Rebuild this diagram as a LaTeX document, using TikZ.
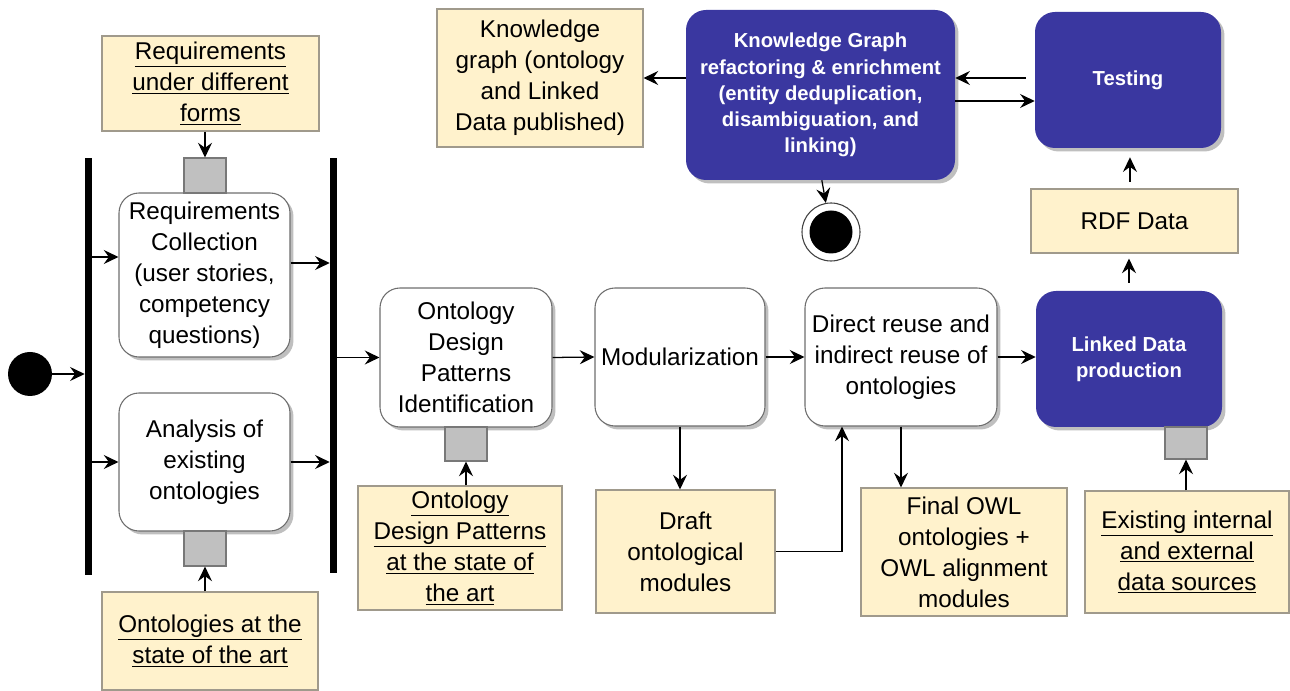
\documentclass[tikz,border=0pt]{standalone}
\usepackage{fontspec}
\setmainfont{Liberation Sans}
\usetikzlibrary{arrows.meta,shadows}

\definecolor{kgblue}{RGB}{58,55,160}
\definecolor{notefill}{RGB}{255,242,204}
\definecolor{noteline}{RGB}{160,154,140}
\definecolor{pinfill}{RGB}{192,192,192}
\definecolor{pinline}{RGB}{120,120,120}
\definecolor{actline}{RGB}{110,110,110}

\newcommand{\regfont}{\fontsize{18.2pt}{23.3pt}\selectfont}
\newcommand{\boldfont}{\fontsize{15.2pt}{19.6pt}\selectfont\bfseries}

\begin{document}
\begin{tikzpicture}[x=0.75pt,y=-0.75pt,
  sz/.style 2 args={minimum width=#1*0.75pt, minimum height=#2*0.75pt},
  softshadow/.style={drop shadow={shadow xshift=2.6pt, shadow yshift=-2.6pt, opacity=0.25, fill=black}},
  act/.style={draw=actline, fill=white, rounded corners=15pt, line width=0.8pt,
    inner sep=0pt, align=center, font=\regfont, softshadow},
  kgact/.style={fill=kgblue, rounded corners=15pt, inner sep=0pt, align=center,
    text=white, font=\boldfont, softshadow},
  note/.style={draw=noteline, fill=notefill, line width=0.8pt, inner sep=0pt,
    align=center, font=\regfont},
  pin/.style={draw=pinline, fill=pinfill, line width=0.8pt, inner sep=0pt},
  syncbar/.style={fill=black, inner sep=0pt, minimum width=7*0.75pt},
  arr/.style={draw=black, line width=0.95pt, -{Stealth[length=11pt,width=10.5pt,inset=3.8pt]}}
]
\useasboundingbox (0,0) rectangle (1290,691);

% initial and final states
\node[circle, fill=black, inner sep=0pt, minimum size=44*0.75pt] (start) at (30,374) {};
\node[circle, draw=black!75, line width=0.8pt, fill=white, inner sep=0pt, minimum size=58*0.75pt] (endo) at (831,232) {};
\node[circle, fill=black, inner sep=0pt, minimum size=43*0.75pt] (endi) at (831,232) {};

% fork / join bars
\node[syncbar, minimum height=417*0.75pt] (bar1) at (88.5,366.5) {};
\node[syncbar, minimum height=415*0.75pt] (bar2) at (333.5,365.5) {};

% requirement phase
\node[note, sz={217}{95}] (reqforms) at (210.5,83.5)
  {\underline{Requirements}\\\underline{under different}\\\underline{forms}};
\node[act, sz={171}{164}] (reqcoll) at (204.5,275)
  {Requirements\\Collection\\(user stories,\\competency\\questions)};
\node[pin, sz={42}{35}] (pin1) at (205,175.5) {};
\node[act, sz={171}{138}] (analysis) at (204.5,462)
  {Analysis of\\existing\\ontologies};
\node[pin, sz={42}{35}] (pin2) at (205,548.5) {};
\node[note, sz={216}{98}] (ontart) at (210,641)
  {\underline{Ontologies at the}\\\underline{state of the art}};

% ontology engineering
\node[act, sz={172}{139}] (odp) at (466,357.5)
  {Ontology\\Design\\Patterns\\Identification};
\node[pin, sz={42}{34}] (pin3) at (466,444) {};
\node[note, sz={204}{124}] (odpart) at (460,548)
  {\underline{Ontology}\\\underline{Design Patterns}\\\underline{at the state of}\\\underline{the art}};
\node[act, sz={170}{138}] (mod) at (680,357) {Modularization};
\node[note, sz={179}{123}] (draft) at (685.5,551.5)
  {Draft\\ontological\\modules};
\node[act, sz={192}{138}] (direct) at (901,357)
  {Direct reuse and\\indirect reuse of\\ontologies};
\node[note, sz={206}{128}] (final) at (964,552)
  {Final OWL\\ontologies +\\OWL alignment\\modules};

% knowledge graph construction
\node[kgact, sz={186}{136}] (ld) at (1129,359) {Linked Data\\production};
\node[pin, sz={42}{32}] (pin4) at (1186,443) {};
\node[note, sz={204}{122}] (exist) at (1187,552)
  {\underline{Existing internal}\\\underline{and external}\\\underline{data sources}};
\node[note, sz={207}{64}] (rdf) at (1134.5,221) {RDF Data};
\node[kgact, sz={186}{136}] (testing) at (1128,80) {Testing};
\node[kgact, sz={269}{170}] (kg) at (820.5,95)
  {Knowledge Graph\\refactoring \& enrichment\\(entity deduplication,\\disambiguation, and\\linking)};
\node[note, sz={206}{138}] (kgpub) at (540,78)
  {Knowledge\\graph (ontology\\and Linked\\Data published)};

% helper points for offset connectors
\coordinate (rc1) at ([yshift=13.5pt]reqcoll.west);
\coordinate (rc2) at ([yshift=9pt]reqcoll.east);
\coordinate (dr1) at ([xshift=-44.25pt]direct.south);
\coordinate (ts1) at ([yshift=1.5pt]testing.west);
\coordinate (ts2) at ([yshift=-15.75pt]testing.west);

% connectors
\draw[arr] (start) -- (start -| bar1.west);
\draw[arr] (rc1 -| bar1.east) -- (rc1);
\draw[arr] (analysis.west -| bar1.east) -- (analysis.west);
\draw[arr] (rc2) -- (rc2 -| bar2.west);
\draw[arr] (analysis.east) -- (analysis.east -| bar2.west);
\draw[arr] (pin1.north |- reqforms.south) -- (pin1.north);
\draw[arr] (pin2.south |- ontart.north) -- (pin2.south);
\draw[arr] (odp.west -| bar2.east) -- (odp.west);
\draw[arr] (pin3.south |- odpart.north) -- (pin3.south);
\draw[arr] (odp.east) -- (mod.west);
\draw[arr] (mod.south) -- (mod.south |- draft.north);
\draw[arr] (mod.east) -- (direct.west);
\draw[arr] (draft.east) -| (dr1);
\draw[arr] (direct.south) -- (direct.south |- final.north);
\draw[arr] (direct.east) -- (direct.east -| ld.west);
\draw[arr] (pin4.south |- exist.north) -- (pin4.south);
\draw[arr, shorten <=6pt, shorten >=3.75pt] (ld.north) -- (ld.north |- rdf.south);
\draw[arr, shorten <=5pt, shorten >=6.75pt] ([xshift=-3.4pt]rdf.north) -- ([xshift=-3.4pt]rdf.north |- testing.south);
\draw[arr, shorten <=6.75pt] (ts1) -- (ts1 -| kg.east);
\draw[arr] (ts2 -| kg.east) -- (ts2);
\draw[arr] (kgpub.east -| kg.west) -- (kgpub.east);
\draw[arr] ([xshift=1pt]kg.south) -- (endo);
\end{tikzpicture}
\end{document}
